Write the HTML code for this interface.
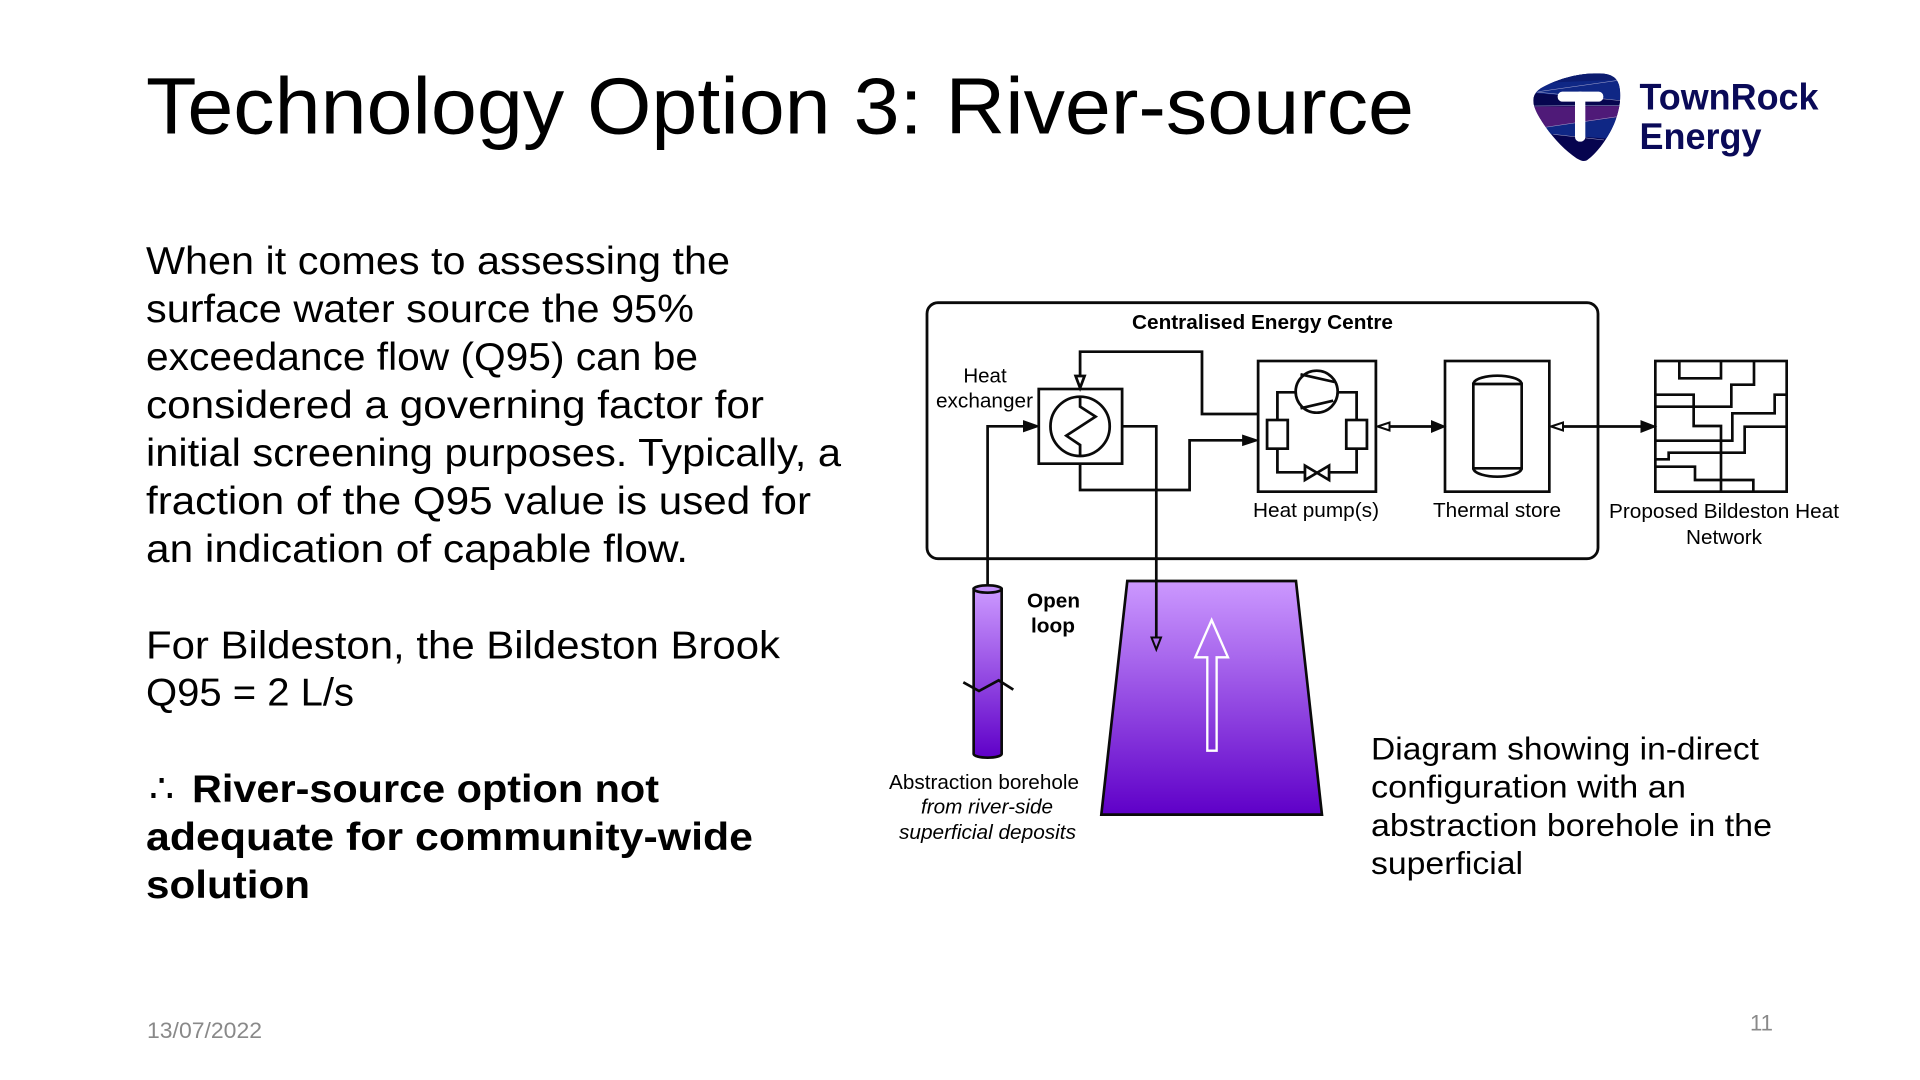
<!DOCTYPE html>
<html><head><meta charset="utf-8"><title>Technology Option 3: River-source</title>
<style>
html,body{margin:0;padding:0;background:#fff;width:1920px;height:1080px;overflow:hidden}
svg{display:block}
text{font-family:"Liberation Sans",Arial,sans-serif;fill:#000}
</style></head><body>
<svg width="1920" height="1080" viewBox="0 0 1920 1080" xmlns="http://www.w3.org/2000/svg">
<defs>
<linearGradient id="g1" x1="0" y1="0" x2="0" y2="1"><stop offset="0" stop-color="#cc99ff"/><stop offset="1" stop-color="#5f00c8"/></linearGradient>
<clipPath id="shield"><path d="M70 150 C72 128 85 118 105 108 C150 85 205 70 262 70 C300 70 320 80 327 105 C335 135 330 175 315 215 C295 265 260 310 232 330 C222 336 212 332 200 325 C160 298 120 255 90 205 C78 185 70 168 70 150Z"/></clipPath>
</defs>
<rect width="1920" height="1080" fill="#fff"/>

<!-- Title -->
<text x="146" y="133.5" font-size="80" textLength="1268" lengthAdjust="spacingAndGlyphs">Technology Option 3: River-source</text>

<!-- Logo -->
<g transform="translate(1510,50) scale(.3333)">
<g clip-path="url(#shield)">
<rect x="60" y="60" width="290" height="290" fill="#06044f"/>
<polygon points="60,60 350,60 350,152 60,128" fill="#0f2785"/>
<polygon points="60,60 350,60 350,88 60,100" fill="#0c1c70"/>
<polygon points="60,130 340,152 340,170 60,170" fill="#06064f"/>
<polygon points="60,170 340,168 340,200 60,238" fill="#4f1a78"/>
<polygon points="60,238 340,200 340,270 60,248" fill="#0f2785"/>
<path d="M85 125 L332 90 M80 126 L332 152 M70 168 L332 166 M105 232 L322 200 M130 253 L282 270" stroke="#a9a9d0" stroke-width="1.5" fill="none"/>
</g>
<rect x="143" y="125" width="137" height="30" rx="14" fill="#fff"/>
<rect x="195" y="125" width="31" height="150" rx="14" fill="#fff"/>
</g>
<text x="1639.5" y="109.5" font-size="37" font-weight="bold" style="fill:#0a0a58" textLength="179" lengthAdjust="spacingAndGlyphs">TownRock</text>
<text x="1639.5" y="149" font-size="37" font-weight="bold" style="fill:#0a0a58" textLength="122" lengthAdjust="spacingAndGlyphs">Energy</text>

<!-- Body text -->
<g font-size="38.5">
<text x="146" y="274" textLength="584" lengthAdjust="spacingAndGlyphs">When it comes to assessing the</text>
<text x="146" y="322" textLength="548" lengthAdjust="spacingAndGlyphs">surface water source the 95%</text>
<text x="146" y="370" textLength="552" lengthAdjust="spacingAndGlyphs">exceedance flow (Q95) can be</text>
<text x="146" y="418" textLength="618" lengthAdjust="spacingAndGlyphs">considered a governing factor for</text>
<text x="146" y="466" textLength="695" lengthAdjust="spacingAndGlyphs">initial screening purposes. Typically, a</text>
<text x="146" y="514" textLength="665" lengthAdjust="spacingAndGlyphs">fraction of the Q95 value is used for</text>
<text x="146" y="562" textLength="542" lengthAdjust="spacingAndGlyphs">an indication of capable flow.</text>
<text x="146" y="658.5" textLength="634" lengthAdjust="spacingAndGlyphs">For Bildeston, the Bildeston Brook</text>
<text x="146" y="705.5" textLength="208" lengthAdjust="spacingAndGlyphs">Q95 = 2 L/s</text>
<text x="149" y="802" style="font-family:'DejaVu Sans',sans-serif" font-size="40">∴</text>
<g font-weight="bold">
<text x="192" y="802" textLength="467" lengthAdjust="spacingAndGlyphs">River-source option not</text>
<text x="146" y="850" textLength="607" lengthAdjust="spacingAndGlyphs">adequate for community-wide</text>
<text x="146" y="898" textLength="164" lengthAdjust="spacingAndGlyphs">solution</text>
</g>
</g>

<!-- Footer -->
<text x="147" y="1038" font-size="22" style="fill:#898989" textLength="115" lengthAdjust="spacingAndGlyphs">13/07/2022</text>
<text x="1750" y="1030.5" font-size="22" style="fill:#898989" textLength="23" lengthAdjust="spacingAndGlyphs">11</text>

<!-- Right caption -->
<g font-size="31.5">
<text x="1371" y="759.5" textLength="388" lengthAdjust="spacingAndGlyphs">Diagram showing in-direct</text>
<text x="1371" y="797.5" textLength="315" lengthAdjust="spacingAndGlyphs">configuration with an</text>
<text x="1371" y="836" textLength="401" lengthAdjust="spacingAndGlyphs">abstraction borehole in the</text>
<text x="1371" y="874" textLength="152" lengthAdjust="spacingAndGlyphs">superficial</text>
</g>

<!-- Diagram: big rounded box -->
<rect x="927" y="302.7" width="671" height="256" rx="11" fill="none" stroke="#0a0a0a" stroke-width="2.8"/>

<!-- Trapezoid and borehole -->
<g transform="translate(880,560) scale(.3333)" fill="none" stroke="#0a0a0a" stroke-width="8">
<polygon points="742,63 1248,63 1326,764 664,764" fill="url(#g1)"/>
<path d="M281 87 L281 582 A42 11 0 0 0 365 582 L365 87 Z" fill="url(#g1)"/>
<ellipse cx="323" cy="87" rx="42" ry="11" fill="#c48ffb"/>
<polyline points="250,367 297,393 356,361 400,389"/>
<polygon points="995,180 1044,292 1010,292 1010,572 982,572 982,292 946,292" stroke="#fff" stroke-width="7"/>
</g>

<!-- Connectors in real coordinates -->
<g fill="none" stroke="#0a0a0a" stroke-width="2.7">
<polyline points="987.6,586 987.6,426.3 1026,426.3"/>
<polyline points="1122,426.3 1156.3,426.3 1156.3,638"/>
<line x1="1389" y1="426.5" x2="1434" y2="426.5"/>
<line x1="1563" y1="426.5" x2="1642" y2="426.5"/>
</g>
<g stroke="#0a0a0a" stroke-width="2">
<polygon points="1024,421.5 1037.5,426.3 1024,431" fill="#0a0a0a"/>
<polygon points="1151.5,637.5 1161,637.5 1156.3,649.5" fill="#ae70ee"/>
<polygon points="1377.5,426.5 1389.5,422.5 1389.5,430.5" fill="#fff"/>
<polygon points="1432,421.5 1444,426.5 1432,431.5" fill="#0a0a0a"/>
<polygon points="1551,426.5 1563,422.5 1563,430.5" fill="#fff"/>
<polygon points="1641.5,421.5 1654.5,426.5 1641.5,431.5" fill="#0a0a0a"/>
</g>

<!-- Heat exchanger + heat pump (left crop coordinates) -->
<g transform="translate(900,280) scale(.34435,.33333)" fill="none" stroke="#0a0a0a" stroke-width="8">
<rect x="403" y="327" width="242" height="224" fill="#fff"/>
<ellipse cx="523" cy="439" rx="86" ry="89"/>
<polyline points="523,350 523,380 568,410 483,467 523,495 523,528"/>
<polyline points="1038,402 877,402 877,215 523,215 523,288"/>
<polygon points="510,288 536,288 523,324" fill="#fff"/>
<polyline points="523,551 523,630 841,630 841,481 1000,481"/>
<polygon points="996,467 1037,481 996,495" fill="#0a0a0a" stroke-width="5"/>
<rect x="1040" y="243" width="342" height="392"/>
<ellipse cx="1210" cy="335" rx="61" ry="63"/>
<path d="M1163 283 L1262 306 M1163 385 L1258 362"/>
<rect x="1066" y="420" width="60" height="86"/>
<rect x="1296" y="420" width="60" height="86"/>
<polyline points="1150,337 1096,337 1096,420"/>
<polyline points="1270,337 1326,337 1326,420"/>
<polyline points="1096,506 1096,577 1176,577"/>
<polyline points="1246,577 1326,577 1326,506"/>
<polygon points="1176,557 1246,600 1246,557 1176,600"/>
</g>

<!-- Thermal store + network (right crop coordinates) -->
<g transform="translate(1400,280) scale(.33333)" fill="none" stroke="#0a0a0a" stroke-width="8">
<rect x="135" y="243" width="313" height="392"/>
<path d="M220 312 L365 312 L365 565 L220 565 Z"/>
<path d="M220 312 C222 295 262 287 292 287 C322 287 363 295 365 312"/>
<path d="M220 565 C222 582 262 590 292 590 C322 590 363 582 365 565"/>
<rect x="766" y="243" width="394" height="392"/>
<polyline points="838,243 838,295 963,295 963,243"/>
<polyline points="1062,243 1062,314 994,314 994,380 766,380"/>
<polyline points="766,344 881,344 881,438 963,438 963,635"/>
<polyline points="1160,344 1124,344 1124,400 997,400 997,482 766,482"/>
<polyline points="1160,440 1034,440 1034,518 806,518 806,538 766,538"/>
<polyline points="766,560 885,560 885,600 1060,600 1060,635"/>
</g>

<!-- Diagram labels -->
<g font-size="20.5">
<text x="1132" y="329" font-weight="bold" textLength="261" lengthAdjust="spacingAndGlyphs">Centralised Energy Centre</text>
<text x="985" y="382.5" text-anchor="middle">Heat</text>
<text x="936" y="407.5" textLength="97" lengthAdjust="spacingAndGlyphs">exchanger</text>
<text x="1253" y="517" textLength="126" lengthAdjust="spacingAndGlyphs">Heat pump(s)</text>
<text x="1433" y="517" textLength="128" lengthAdjust="spacingAndGlyphs">Thermal store</text>
<text x="1609" y="518" textLength="230" lengthAdjust="spacingAndGlyphs">Proposed Bildeston Heat</text>
<text x="1686" y="544" textLength="76" lengthAdjust="spacingAndGlyphs">Network</text>
<text x="1027" y="607.5" font-weight="bold" textLength="53" lengthAdjust="spacingAndGlyphs">Open</text>
<text x="1031" y="632.5" font-weight="bold" textLength="44" lengthAdjust="spacingAndGlyphs">loop</text>
<text x="889" y="788.8" textLength="190" lengthAdjust="spacingAndGlyphs">Abstraction borehole</text>
<text x="921" y="813.5" font-style="italic" textLength="132" lengthAdjust="spacingAndGlyphs">from river-side</text>
<text x="899" y="839" font-style="italic" textLength="177" lengthAdjust="spacingAndGlyphs">superficial deposits</text>
</g>
</svg>
</body></html>
